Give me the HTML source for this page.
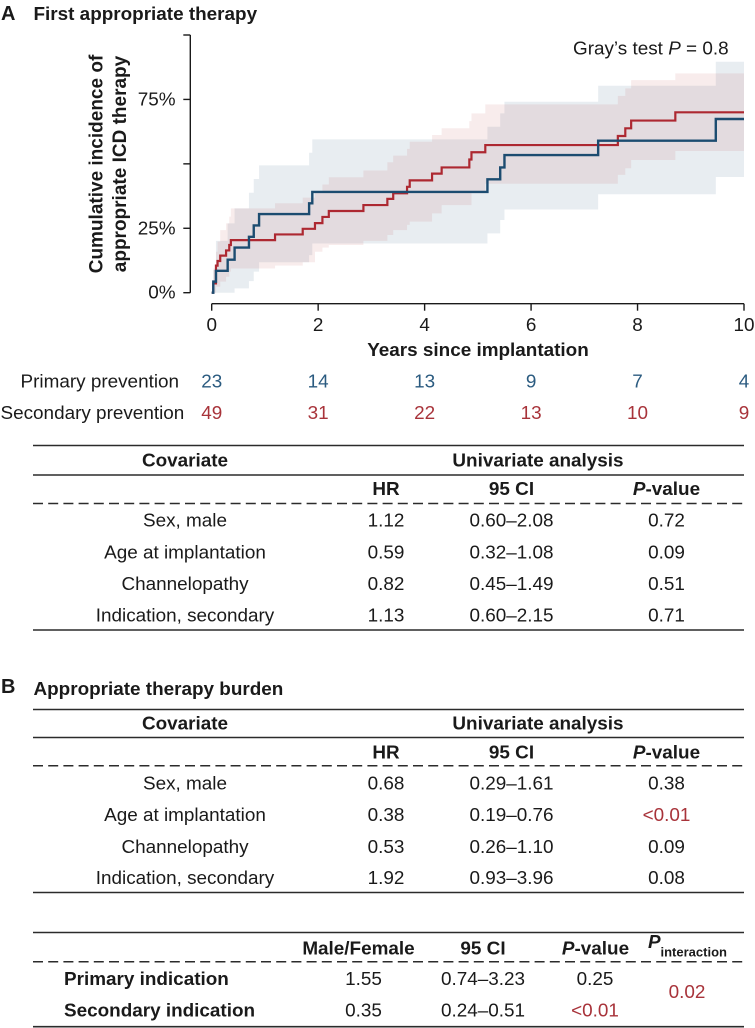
<!DOCTYPE html>
<html lang="en">
<head>
<meta charset="utf-8">
<title>Cumulative incidence of appropriate ICD therapy</title>
<style>
html,body{margin:0;padding:0;background:#fff;}
svg{display:block;}
text{font-family:"Liberation Sans",Arial,sans-serif;font-size:18.9px;fill:#1a1a1a;}
.b{font-weight:bold;}
.m{text-anchor:middle;}
.red{fill:#a8333a;}
.rule{stroke:#2b2b2b;stroke-width:1.6;}
.dash{stroke:#2b2b2b;stroke-width:1.5;stroke-dasharray:10 5.2;}
.i{font-style:italic;}
</style>
</head>
<body>
<svg id="figure" xmlns="http://www.w3.org/2000/svg" width="755" height="1028" viewBox="0 0 755 1028">
  <text class="b" x="1" y="20" style="font-size:20px">A</text>
  <text class="b" x="33.500" y="20">First appropriate therapy</text>

  <g id="chart"></g>

  <text class="b m" style="font-size:19px" transform="translate(102.500 164) rotate(-90)">Cumulative incidence of</text>
  <text class="b m" style="font-size:19px" transform="translate(126 164) rotate(-90)">appropriate ICD therapy</text>
  <text class="b m" x="478" y="356">Years since implantation</text>
  <text x="573" y="54.500">Gray’s test <tspan class="i">P</tspan> = 0.8</text>
  <text x="20.500" y="387.500">Primary prevention</text>
  <text x="0.500" y="419">Secondary prevention</text>

  <g>
    <line class="rule" x1="33" x2="744" y1="445.500" y2="445.500"/>
    <line class="rule" x1="33" x2="744" y1="475" y2="475"/>
    <line class="dash" x1="33" x2="744" y1="503.500" y2="503.500"/>
    <line class="rule" x1="33" x2="744" y1="630" y2="630"/>
    <text class="b m" x="185" y="466.500">Covariate</text>
    <text class="b m" x="538" y="466.500">Univariate analysis</text>
    <text class="b m" x="386" y="495">HR</text>
    <text class="b m" x="511.500" y="495">95 CI</text>
    <text class="b m" x="666.500" y="495"><tspan class="i">P</tspan>-value</text>
    <text class="m" x="185" y="526.500">Sex, male</text><text class="m" x="386" y="526.500">1.12</text><text class="m" x="511.500" y="526.500">0.60–2.08</text><text class="m" x="666.500" y="526.500">0.72</text>
    <text class="m" x="185" y="558.500">Age at implantation</text><text class="m" x="386" y="558.500">0.59</text><text class="m" x="511.500" y="558.500">0.32–1.08</text><text class="m" x="666.500" y="558.500">0.09</text>
    <text class="m" x="185" y="590">Channelopathy</text><text class="m" x="386" y="590">0.82</text><text class="m" x="511.500" y="590">0.45–1.49</text><text class="m" x="666.500" y="590">0.51</text>
    <text class="m" x="185" y="621.500">Indication, secondary</text><text class="m" x="386" y="621.500">1.13</text><text class="m" x="511.500" y="621.500">0.60–2.15</text><text class="m" x="666.500" y="621.500">0.71</text>
  </g>

  <text class="b" x="1" y="693" style="font-size:20px">B</text>
  <text class="b" x="33.500" y="695">Appropriate therapy burden</text>

  <g>
    <line class="rule" x1="33" x2="744" y1="709.500" y2="709.500"/>
    <line class="rule" x1="33" x2="744" y1="737.500" y2="737.500"/>
    <line class="dash" x1="33" x2="744" y1="765.700" y2="765.700"/>
    <line class="rule" x1="33" x2="744" y1="892.500" y2="892.500"/>
    <text class="b m" x="185" y="729.500">Covariate</text>
    <text class="b m" x="538" y="729.500">Univariate analysis</text>
    <text class="b m" x="386" y="758.300">HR</text>
    <text class="b m" x="511.500" y="758.300">95 CI</text>
    <text class="b m" x="666.500" y="758.300"><tspan class="i">P</tspan>-value</text>
    <text class="m" x="185" y="789.500">Sex, male</text><text class="m" x="386" y="789.500">0.68</text><text class="m" x="511.500" y="789.500">0.29–1.61</text><text class="m" x="666.500" y="789.500">0.38</text>
    <text class="m" x="185" y="820.800">Age at implantation</text><text class="m" x="386" y="820.800">0.38</text><text class="m" x="511.500" y="820.800">0.19–0.76</text><text class="m red" x="666.500" y="820.800">&lt;0.01</text>
    <text class="m" x="185" y="852.800">Channelopathy</text><text class="m" x="386" y="852.800">0.53</text><text class="m" x="511.500" y="852.800">0.26–1.10</text><text class="m" x="666.500" y="852.800">0.09</text>
    <text class="m" x="185" y="884">Indication, secondary</text><text class="m" x="386" y="884">1.92</text><text class="m" x="511.500" y="884">0.93–3.96</text><text class="m" x="666.500" y="884">0.08</text>
  </g>

  <g>
    <line class="rule" x1="33" x2="744" y1="932.500" y2="932.500"/>
    <line class="dash" x1="33" x2="744" y1="961.700" y2="961.700"/>
    <line class="rule" x1="33" x2="744" y1="1026.700" y2="1026.700"/>
    <text class="b m" x="358.500" y="954.500">Male/Female</text>
    <text class="b m" x="483" y="954.500">95 CI</text>
    <text class="b m" x="595.500" y="954.500"><tspan class="i">P</tspan>-value</text>
    <text class="b i" x="648" y="948">P</text>
    <text class="b" x="660.500" y="956.700" style="font-size:13px">interaction</text>
    <text class="b" x="64" y="985">Primary indication</text><text class="m" x="363.500" y="985">1.55</text><text class="m" x="483" y="985">0.74–3.23</text><text class="m" x="595" y="985">0.25</text>
    <text class="b" x="64" y="1016.700">Secondary indication</text><text class="m" x="363.500" y="1016.700">0.35</text><text class="m" x="483" y="1016.700">0.24–0.51</text><text class="m red" x="595" y="1016.700">&lt;0.01</text>
    <text class="m red" x="687" y="998">0.02</text>
  </g>
</svg>
<script>
var xTicks = [0, 2, 4, 6, 8, 10];
var yTicks = [0, 25, 50, 75, 100];
var yTickLabels = ['0%', '25%', '', '75%', ''];

var primaryTimes = [0, 0.03, 0.08, 0.30, 0.43, 0.70, 0.79, 0.89, 1.83, 1.89, 5.18, 5.42, 5.50, 7.26, 9.47];
var primaryValues = [0, 4.3, 8.5, 12.8, 17.5, 21.7, 26.1, 30.5, 34.7, 39.1, 44.0, 48.6, 53.4, 59.0, 67.4];
var primaryUpper = [0, 8.8, 20.1, 26.9, 32.7, 38.8, 44.1, 49.4, 54.3, 59.5, 64.4, 69.6, 74.1, 80.3, 89.6];
var primaryLower = [0, 0, 0, 0, 1.7, 4.5, 8.2, 11.8, 14.6, 19.1, 23.0, 28.2, 32.3, 38.2, 44.9];

var secondaryTimes = [0, 0.03, 0.08, 0.11, 0.16, 0.27, 0.33, 0.36, 1.19, 1.71, 1.94, 2.08, 2.20, 2.85, 3.30, 3.41, 3.67, 3.72, 4.14, 4.32, 4.84, 4.88, 5.14, 7.63, 7.77, 7.88, 8.71];
var secondaryValues = [0, 3.6, 10.5, 12.3, 14.4, 16.4, 18.5, 20.4, 22.6, 24.8, 27.0, 29.4, 31.7, 34.0, 36.4, 38.6, 41.1, 43.6, 46.2, 48.6, 51.7, 54.5, 57.3, 60.8, 63.8, 66.8, 70.0];
var secondaryUpper = [0, 9.4, 15.9, 19.8, 24.3, 26.9, 29.5, 32.7, 34.7, 36.9, 39.2, 42.0, 44.8, 47.4, 50.6, 53.2, 55.8, 58.6, 61.2, 63.8, 66.6, 69.6, 73.1, 76.4, 79.3, 82.5, 85.1];
var secondaryLower = [0, 0, 2.3, 2.3, 4.3, 6.2, 8.2, 9.4, 10.5, 11.8, 15.9, 17.5, 18.5, 20.1, 22.4, 24.3, 26.3, 27.6, 30.8, 34.0, 34.0, 38.6, 42.3, 45.7, 48.3, 51.5, 55.0];

var primaryAtRisk = [23, 14, 13, 9, 7, 4];
var secondaryAtRisk = [49, 31, 22, 13, 10, 9];

var xMax = 10;
var NS = 'http://www.w3.org/2000/svg';
var chart = document.getElementById('chart');

function xPos(t) { return 211.7 + (t / xMax) * 532.3; }
function yPos(v) { return 292.7 - (v / 100) * 257.7; }

function stepPoints(times, vals) {
  var pts = [];
  for (var i = 0; i < times.length; i++) {
    if (i > 0) pts.push(xPos(times[i]).toFixed(2) + ',' + yPos(vals[i - 1]).toFixed(2));
    pts.push(xPos(times[i]).toFixed(2) + ',' + yPos(vals[i]).toFixed(2));
  }
  pts.push(xPos(xMax).toFixed(2) + ',' + yPos(vals[vals.length - 1]).toFixed(2));
  return pts;
}

function addBand(times, upper, lower, fill, name) {
  var el = document.createElementNS(NS, 'polygon');
  
  
  el.setAttribute('points', stepPoints(times, upper).concat(stepPoints(times, lower).reverse()).join(' '));
  el.setAttribute('fill', fill);
  chart.appendChild(el);
}

function addLine(times, vals, stroke, width, name) {
  var el = document.createElementNS(NS, 'polyline');
  
  
  el.setAttribute('points', stepPoints(times, vals).join(' '));
  el.setAttribute('fill', 'none');
  el.setAttribute('stroke', stroke);
  el.setAttribute('stroke-width', width);
  chart.appendChild(el);
}

function addRule(x1, y1, x2, y2, name) {
  var el = document.createElementNS(NS, 'line');
  
  
  el.setAttribute('x1', x1);
  el.setAttribute('y1', y1);
  el.setAttribute('x2', x2);
  el.setAttribute('y2', y2);
  el.setAttribute('stroke', '#1a1a1a');
  el.setAttribute('stroke-width', '1.4');
  chart.appendChild(el);
}

function addText(x, y, str, anchor, fill, name) {
  var el = document.createElementNS(NS, 'text');
  
  
  el.setAttribute('x', x);
  el.setAttribute('y', y);
  el.setAttribute('text-anchor', anchor);
  el.setAttribute('style', 'fill:' + fill);
  el.textContent = str;
  chart.appendChild(el);
}

addBand(primaryTimes, primaryUpper, primaryLower, 'rgba(29,78,114,0.10)', 'primary-confidence-band');
addBand(secondaryTimes, secondaryUpper, secondaryLower, 'rgba(176,39,46,0.09)', 'secondary-confidence-band');
addLine(secondaryTimes, secondaryValues, '#ad2831', 2.2, 'secondary-prevention-line');
addLine(primaryTimes, primaryValues, '#1c4c70', 2.4, 'primary-prevention-line');

addRule(190.3, yPos(yTicks[yTicks.length - 1]), 190.3, yPos(yTicks[0]), 'y-axis-line');
yTicks.forEach(function (v, i) {
  addRule(183.3, yPos(v), 190.3, yPos(v), 'y-axis-tick');
  if (yTickLabels[i]) addText(175.5, yPos(v) + 6, yTickLabels[i], 'end', '#1a1a1a', 'y-tick-label');
});

addRule(xPos(xTicks[0]), 303.7, xPos(xTicks[xTicks.length - 1]), 303.7, 'x-axis-line');
xTicks.forEach(function (t) {
  addRule(xPos(t), 303.7, xPos(t), 310.7, 'x-axis-tick');
  var labelX = xPos(t);
  addText(labelX, 331, String(t), 'middle', '#1a1a1a', 'x-tick-label');
  addText(labelX, 387.500, String(primaryAtRisk[xTicks.indexOf(t)]), 'middle', '#2b5b80', 'primary-at-risk');
  addText(labelX, 419, String(secondaryAtRisk[xTicks.indexOf(t)]), 'middle', '#a8333a', 'secondary-at-risk');
});
</script>
</body>
</html>
